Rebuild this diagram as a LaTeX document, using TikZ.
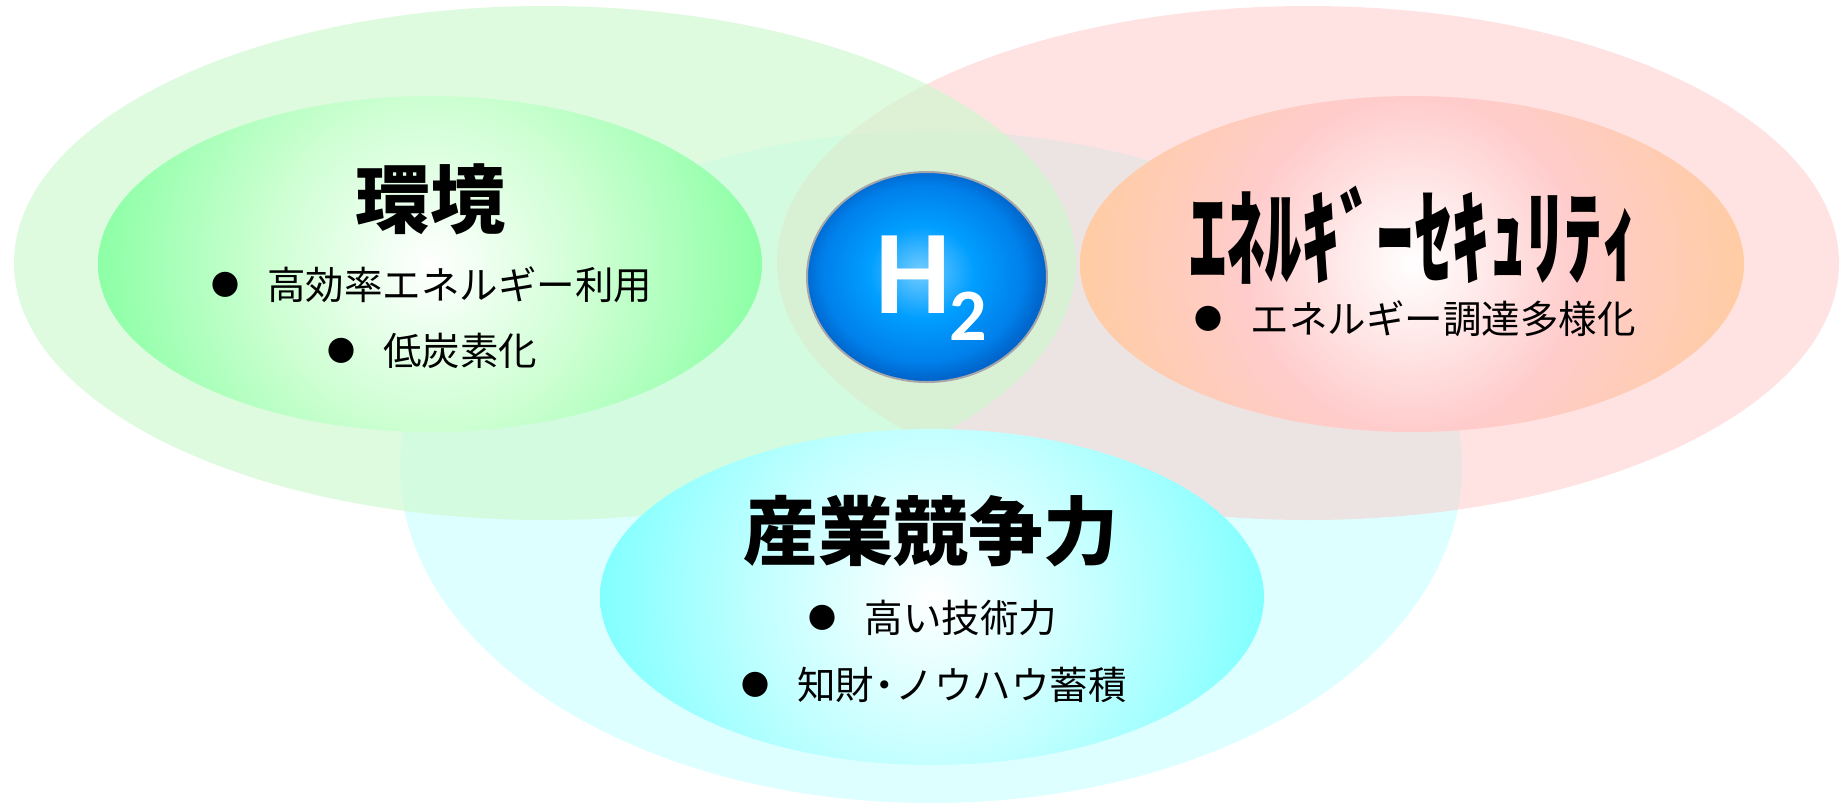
\documentclass[tikz,border=0pt]{standalone}
\usepackage{fontspec}
\usepackage{graphicx}
\usetikzlibrary{shapes.geometric}
\newfontfamily\jp{Noto Sans CJK JP}
\newfontfamily\hfont{Carlito}

\definecolor{cyanout}{RGB}{222,255,255}
\definecolor{pinkout}{RGB}{255,193,193}
\definecolor{greenout}{RGB}{206,249,206}
\definecolor{hborder}{RGB}{165,165,170}

% the path's bounding box maps to the central 50bp square: 25bp = edge
\pgfdeclareradialshading{greensh}{\pgfpoint{0bp}{0bp}}{rgb(0bp)=(1,1,1); rgb(12.5bp)=(0.80,1,0.82); rgb(25bp)=(0.55,1,0.65); rgb(50bp)=(0.55,1,0.65)}
\pgfdeclareradialshading{pinksh}{\pgfpoint{0bp}{0bp}}{rgb(0bp)=(1,1,1); rgb(12.5bp)=(1,0.80,0.80); rgb(25bp)=(1,0.80,0.64); rgb(50bp)=(1,0.80,0.64)}
\pgfdeclareradialshading{cyansh}{\pgfpoint{0bp}{0bp}}{rgb(0bp)=(1,1,1); rgb(12.5bp)=(0.77,1,1); rgb(25bp)=(0.51,1,1); rgb(50bp)=(0.51,1,1)}
\pgfdeclareradialshading{bluesh}{\pgfpoint{-1.5bp}{1.5bp}}{rgb(0bp)=(0.45,0.80,1); rgb(11bp)=(0,0.62,1); rgb(21bp)=(0,0.50,0.92); rgb(25bp)=(0,0.40,0.80); rgb(50bp)=(0,0.40,0.80)}

\newcommand\itembul{\raisebox{2pt}{\fontsize{14}{14}\selectfont ●}\hspace{14pt}}

\tikzset{
  outerell/.style={ellipse, inner sep=0pt, outer sep=0pt, minimum width=531pt, draw=none},
  innerell/.style={ellipse, inner sep=0pt, outer sep=0pt, minimum width=332pt, minimum height=168pt, draw=none},
  titletext/.style={font=\jp\bfseries\fontsize{37.5}{40}\selectfont, inner sep=0pt, text=black},
  itemtext/.style={font=\jp\fontsize{19.25}{22}\selectfont, inner sep=0pt, text=black},
}

\begin{document}
\begin{tikzpicture}[x=0.5pt, y=-0.5pt]
  \fill[white] (0,0) rectangle (1844,804);
  % outer translucent ellipses
  \node[outerell, minimum height=336pt, fill=cyanout] (cyo) at (931,467) {};
  \node[outerell, minimum height=257pt, fill=pinkout, fill opacity=0.45] (pko) at (1308,263) {};
  \node[outerell, minimum height=257pt, fill=greenout, fill opacity=0.64] (gro) at (545,263) {};
  % inner shaded ellipses
  \node[innerell, path picture={\shade[shading=greensh] (path picture bounding box.center) circle (166pt);}] (gri) at (430,264) {};
  \node[innerell, path picture={\shade[shading=pinksh] (path picture bounding box.center) circle (166pt);}] (pki) at (1412,264) {};
  \node[innerell, path picture={\shade[shading=cyansh] (path picture bounding box.center) circle (166pt);}] (cyi) at (932,597) {};
  % H2
  \node[ellipse, inner sep=0pt, minimum width=120pt, minimum height=105pt, shading=bluesh, draw=hborder, line width=1pt] (hball) at (927,277) {};
  \node[anchor=base, inner sep=0pt, text=white, font=\hfont\bfseries] (h2) at (931,313) {\fontsize{52.5}{60}\selectfont\scalebox{1.14}{H}\kern-1pt\raisebox{-13.5pt}{\fontsize{37}{40}\selectfont 2}};
  % titles
  \node[titletext] (t1) at (430,199) {環境};
  \node[titletext] (t2) at (1414,235) {\scalebox{1}[1.4]{ｴﾈﾙｷﾞｰｾｷｭﾘﾃｨ}};
  \node[titletext] (t3) at (931,531) {産業競争力};
  % items
  \node[itemtext] (i1) at (432,285) {\itembul 高効率エネルギー利用};
  \node[itemtext] (i2) at (432,351) {\itembul 低炭素化};
  \node[itemtext] (i3) at (1415,319) {\itembul エネルギー調達多様化};
  \node[itemtext] (i4) at (933,618) {\itembul 高い技術力};
  \node[itemtext] (i5) at (934,685) {\itembul 知財\makebox[0.55em][c]{・}ノウハウ蓄積};
\end{tikzpicture}
\end{document}
